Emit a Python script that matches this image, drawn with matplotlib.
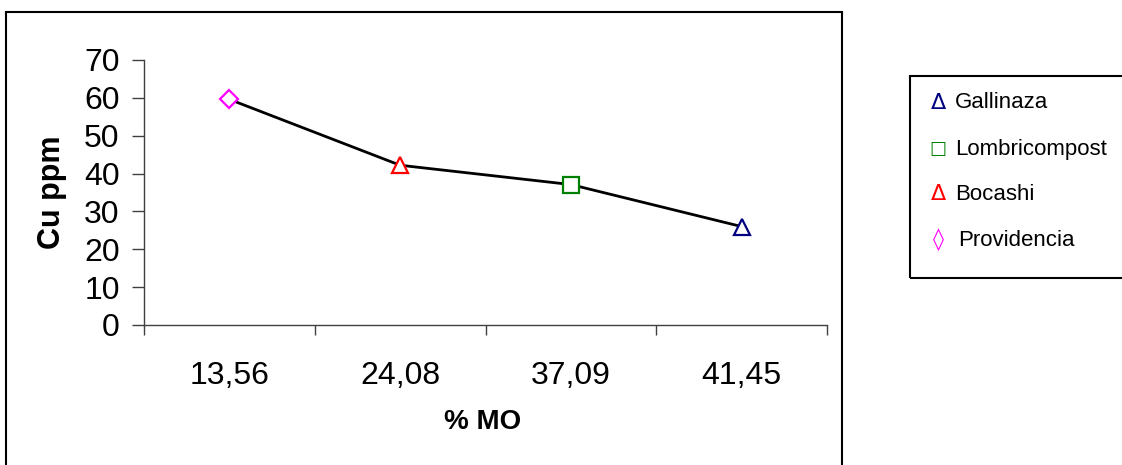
import matplotlib
matplotlib.use("Agg")
import matplotlib.pyplot as plt
from matplotlib.patches import Rectangle

plt.rcParams['font.family'] = ['Liberation Sans', 'DejaVu Sans']

# Organic matter (%) per amendment and its copper content (ppm)
categories = ["13,56", "24,08", "37,09", "41,45"]
sources = ["Providencia", "Bocashi", "Lombricompost", "Gallinaza"]
cu_ppm = [59.6, 42.2, 37.1, 26.0]
marker_styles = ["D", "^", "s", "^"]
marker_colors = ["#FF00FF", "#FF0000", "#008000", "#000080"]

legend_order = ["Gallinaza", "Lombricompost", "Bocashi", "Providencia"]
legend_symbols = {"Gallinaza": "\u0394", "Lombricompost": "\u25A1",
                  "Bocashi": "\u0394", "Providencia": "\u25CA"}

W, H = 1122, 465
fig = plt.figure(figsize=(W / 100, H / 100), dpi=100)

# outer frame around the plot area (open at the bottom edge of the image)
fig.patches.append(Rectangle((6 / W, -0.05), (842 - 6) / W, 1.05 - 12 / H,
                             transform=fig.transFigure, fill=False,
                             edgecolor="black", linewidth=1.5))

ax = fig.add_axes([144 / W, (H - 325) / H, (827 - 144) / W, (325 - 60) / H])
xpos = [i + 0.5 for i in range(len(categories))]
ax.plot(xpos, cu_ppm, color="black", linewidth=2, zorder=2)
for x, y, m, c in zip(xpos, cu_ppm, marker_styles, marker_colors):
    ms = 9 if m == "D" else 12
    ax.plot([x], [y], marker=m, markersize=ms, markerfacecolor="white",
            markeredgecolor=c, markeredgewidth=1.6, linestyle="none", zorder=3)

ax.set_xlim(0, len(categories))
ax.set_ylim(0, 70)
ax.set_yticks(range(0, 71, 10))
ax.set_xticks(range(0, len(categories) + 1))
ax.set_xticklabels([])
ax.set_xticks(xpos, minor=True)
ax.set_xticklabels(categories, minor=True)
ax.tick_params(axis="x", which="major", direction="out", length=7.5,
               width=1, color="#404040")
ax.tick_params(axis="x", which="minor", length=0, pad=26, labelsize=23)
ax.tick_params(axis="y", direction="out", length=8.5, width=1,
               color="#404040", labelsize=23, pad=9)
for s in ["top", "right"]:
    ax.spines[s].set_visible(False)
for s in ["left", "bottom"]:
    ax.spines[s].set_color("#404040")
    ax.spines[s].set_linewidth(1)

fig.text(483 / W, 1 - 422 / H, "% MO", fontsize=20, fontweight="bold",
         ha="center", va="center")
fig.text(52 / W, 1 - 192 / H, "Cu ppm", fontsize=22, fontweight="bold",
         ha="center", va="center", rotation=90)

# legend box (continues past the right edge)
fig.patches.append(Rectangle((910 / W, 1 - 278 / H), 0.5, (278 - 76) / H,
                             transform=fig.transFigure, fill=False,
                             edgecolor="black", linewidth=1.5))
color_of = dict(zip(sources, marker_colors))
ys = [103, 149, 194, 240]
for name, y in zip(legend_order, ys):
    sym = legend_symbols[name]
    fs = 13 if name == "Lombricompost" else 16
    fig.text(938 / W, 1 - y / H, sym, color=color_of[name], fontsize=fs,
             ha="center", va="center", family=["DejaVu Sans"])
    tx = 958 if name == "Providencia" else 955
    fig.text(tx / W, 1 - y / H, name, fontsize=16, ha="left", va="center")

fig.savefig("out.png", dpi=100)
